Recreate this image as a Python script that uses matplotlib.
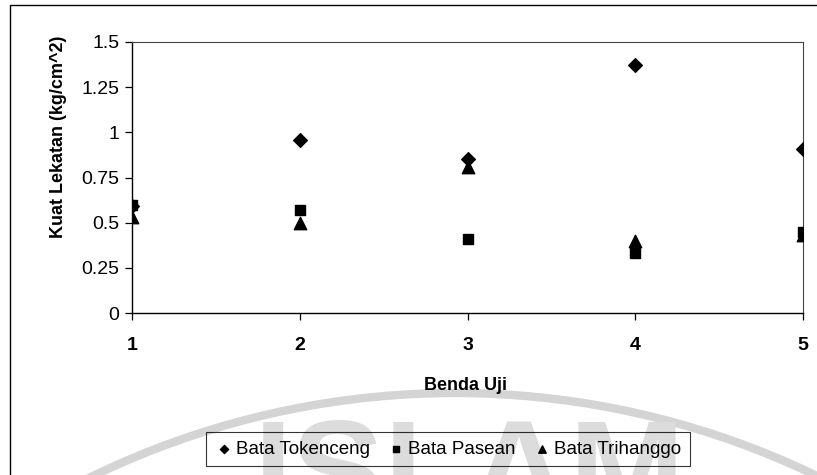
import matplotlib
matplotlib.use('Agg')

import matplotlib.pyplot as plt
from matplotlib.patches import Rectangle, Arc

plt.rcParams['font.family'] = ['Liberation Sans', 'DejaVu Sans']

# Data kuat lekatan per benda uji
benda_uji = [1, 2, 3, 4, 5]
tokenceng = [0.59, 0.96, 0.85, 1.37, 0.91]
pasean = [0.60, 0.57, 0.41, 0.33, 0.45]
trihanggo = [0.53, 0.50, 0.81, 0.40, 0.43]
y_ticks = [0, 0.25, 0.5, 0.75, 1, 1.25, 1.5]
y_tick_labels = ['0', '0.25', '0.5', '0.75', '1', '1.25', '1.5']

W, H = 817, 475
fig = plt.figure(figsize=(W / 100, H / 100), dpi=100)
fig.patch.set_facecolor('white')

# watermark di latar belakang
fig.patches.append(Arc((455 / W, 1 - 1224 / H), 2 * 831 / W, 2 * 831 / H,
                       theta1=0, theta2=180, transform=fig.transFigure,
                       color='#d4d4d4', lw=6.0, zorder=0))
fig.text(470 / W, 1 - 518 / H, 'ISLAM', fontsize=100, fontweight='bold',
         color='#dcdcdc', ha='center', va='baseline', zorder=0)

# bingkai luar grafik
fig.patches.append(Rectangle((10 / W, -0.05), 1.2, 1 - 5 / H + 0.05,
                             transform=fig.transFigure, fill=False,
                             edgecolor='black', lw=1.0, zorder=1))

ax = fig.add_axes([132 / W, 1 - 313 / H, (803 - 132) / W, (313 - 42) / H])
ax.set_facecolor('none')

ax.scatter(benda_uji, tokenceng, marker='D', s=48, color='black', label='Bata Tokenceng', zorder=3)
ax.scatter(benda_uji, pasean, marker='s', s=60, color='black', label='Bata Pasean', zorder=3)
ax.scatter(benda_uji, trihanggo, marker='^', s=80, color='black', label='Bata Trihanggo', zorder=3)

ax.set_xlim(1, 5)
ax.set_ylim(0, 1.5)
ax.set_xticks(benda_uji)
ax.set_xticklabels([str(b) for b in benda_uji], fontsize=14, fontweight='bold')
ax.set_yticks(y_ticks)
ax.set_yticklabels(y_tick_labels, fontsize=14)
ax.tick_params(axis='both', direction='out', length=5, width=0.9, color='black')
ax.tick_params(axis='x', pad=12)
ax.tick_params(axis='y', pad=4)

for side in ['left', 'bottom']:
    ax.spines[side].set_color('black')
    ax.spines[side].set_linewidth(1.0)
for side in ['top', 'right']:
    ax.spines[side].set_color('#444444')
    ax.spines[side].set_linewidth(0.8)

ax.set_ylabel('Kuat Lekatan (kg/cm^2)', fontsize=13, fontweight='bold')
ax.yaxis.set_label_coords(-0.097, 0.65)
fig.text(465 / W, 1 - 385 / H, 'Benda Uji', fontsize=13, fontweight='bold',
         ha='center', va='center')

leg = fig.legend(loc='center', bbox_to_anchor=(448 / W, 1 - 449 / H), ncol=3,
                 frameon=True, fancybox=False, edgecolor='black', facecolor='none',
                 prop={'size': 13.5},
                 handletextpad=0.15, columnspacing=0.9, markerscale=0.6,
                 borderpad=0.45, handlelength=1.0)
leg.get_frame().set_linewidth(0.8)

fig.savefig('out.png', dpi=100, facecolor=fig.get_facecolor())
